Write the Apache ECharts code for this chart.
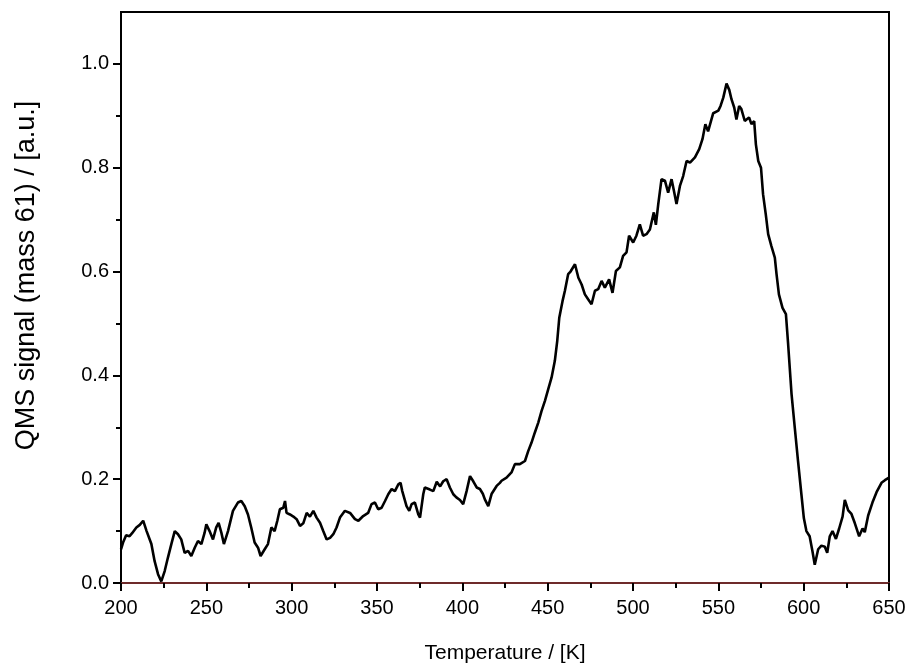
<!DOCTYPE html>
<html>
<head>
<meta charset="utf-8">
<script src="https://cdn.jsdelivr.net/npm/echarts@6/dist/echarts.min.js"></script>
<style>
  html, body { margin: 0; padding: 0; background: #fff; }
  #chart { width: 909px; height: 670px; }
</style>
</head>
<body>
<div id="chart"></div>
<script>
// temperature (K) and QMS signal
const temps = [
  200, 201.2, 203, 205, 206.5, 209, 211, 213, 215, 217.8, 219.7, 221.7, 223.6, 225.6, 227.5, 229.5,
  231.5, 233.4, 235.3, 237.3, 239.3, 241.2, 243.2, 245.1, 247.1, 249, 250, 251.9, 253.9, 255.8, 257.2,
  258.8, 260.3, 262.7, 265.6, 268.5, 270.5, 272.5, 274.4, 276.3, 278.3, 280.3, 281.8, 284.2, 286.1,
  288.1, 290, 291.6, 293.1, 295.1, 296.1, 297, 299, 301, 302.9, 304.9, 306.8, 308.8, 310.7, 312.7,
  314.6, 316.6, 318.5, 320.5, 322.5, 324.4, 326.3, 328.3, 331.2, 334.2, 337.1, 339.1, 341.9, 344.8,
  346.8, 348.8, 350.7, 352.7, 354.7, 356.6, 358.6, 360.5, 362.5, 363.8, 364.8, 367.3, 368.9, 370.3,
  372.2, 374.2, 375.2, 377.1, 378, 381, 383, 385, 387, 388.8, 390.8, 392.7, 394.7, 396.5, 398.6,
  400.5, 402.5, 404.5, 406.4, 408.4, 410.3, 412, 413.2, 415.2, 417.2, 420.1, 422, 423, 425.9, 428.8,
  430.8, 433.7, 436.7, 438.6, 440.5, 442.5, 444.5, 446.4, 448.4, 450.3, 452.3, 454.2, 455.6, 456.8,
  458.7, 460.1, 462, 463.4, 466, 468, 469.9, 471.8, 473.8, 475.7, 477.7, 479.6, 481.6, 483.5, 486,
  488, 490, 492.3, 494.2, 496.2, 497.7, 500.1, 502, 504, 505.9, 507.9, 509.9, 512.2, 513.4, 514.8,
  516.7, 518.7, 520.6, 522.6, 524, 525.5, 527.5, 529.4, 531.4, 533.4, 536.3, 538.8, 540.7, 542.4,
  544, 547, 550, 551.3, 552.9, 554.8, 556.4, 557.7, 559.3, 560.6, 562.2, 563.5, 565.5, 568, 569.4,
  571, 572, 573.4, 575, 576.2, 577.8, 579.2, 581.1, 583.1, 584.1, 585.5, 587.6, 589.6, 590.9, 592.9,
  594.8, 596.7, 598.7, 600.1, 601.6, 603.5, 605.1, 606.5, 608.5, 610.4, 612.4, 613.8, 615.3, 616.9,
  618.9, 620.8, 622.8, 624.1, 626.1, 628, 630, 632.5, 634.5, 635.8, 637.8, 640.3, 642.7, 645.6,
  647.6, 650
];
const signal = [
  0.065, 0.078, 0.092, 0.090, 0.096, 0.107, 0.112, 0.120, 0.100, 0.075, 0.042, 0.017, 0.003, 0.023, 0.049, 0.075,
  0.100, 0.094, 0.084, 0.058, 0.062, 0.052, 0.068, 0.081, 0.075, 0.097, 0.113, 0.100, 0.084, 0.107, 0.116,
  0.097, 0.075, 0.100, 0.139, 0.155, 0.158, 0.148, 0.132, 0.107, 0.078, 0.068, 0.052, 0.065, 0.075,
  0.107, 0.100, 0.120, 0.142, 0.145, 0.158, 0.135, 0.132, 0.128, 0.123, 0.110, 0.115, 0.135, 0.128, 0.139,
  0.126, 0.116, 0.100, 0.084, 0.087, 0.094, 0.107, 0.126, 0.139, 0.135, 0.123, 0.120, 0.129, 0.135,
  0.152, 0.155, 0.142, 0.145, 0.158, 0.171, 0.181, 0.177, 0.190, 0.193, 0.177, 0.148, 0.139, 0.152,
  0.155, 0.132, 0.126, 0.171, 0.184, 0.180, 0.177, 0.195, 0.186, 0.196, 0.200, 0.184, 0.171, 0.165, 0.160,
  0.152, 0.177, 0.206, 0.196, 0.184, 0.181, 0.172, 0.161, 0.148, 0.172, 0.187, 0.193, 0.197, 0.203, 0.213,
  0.229, 0.229, 0.235, 0.254, 0.270, 0.290, 0.309, 0.331, 0.351, 0.373, 0.396, 0.428, 0.466, 0.511,
  0.543, 0.563, 0.595, 0.600, 0.614, 0.588, 0.575, 0.556, 0.546, 0.537, 0.563, 0.566, 0.582, 0.569, 0.585,
  0.559, 0.601, 0.608, 0.630, 0.637, 0.669, 0.656, 0.669, 0.691, 0.669, 0.672, 0.681, 0.714, 0.690, 0.730,
  0.778, 0.775, 0.752, 0.778, 0.755, 0.730, 0.765, 0.784, 0.813, 0.810, 0.820, 0.836, 0.855, 0.884,
  0.870, 0.905, 0.910, 0.919, 0.935, 0.962, 0.950, 0.932, 0.916, 0.893, 0.919, 0.913, 0.890, 0.897, 0.884,
  0.890, 0.845, 0.813, 0.800, 0.749, 0.710, 0.672, 0.649, 0.627, 0.595, 0.556, 0.530, 0.518, 0.460, 0.364,
  0.299, 0.235, 0.170, 0.125, 0.100, 0.090, 0.062, 0.035, 0.065, 0.072, 0.070, 0.058, 0.090, 0.100,
  0.085, 0.105, 0.128, 0.160, 0.140, 0.133, 0.115, 0.090, 0.105, 0.098, 0.130, 0.155, 0.175, 0.193,
  0.198, 0.203
];

const yMajorTicks = [0, 0.2, 0.4, 0.6, 0.8, 1.0];
const yMinorTicks = [0.1, 0.3, 0.5, 0.7, 0.9];

const font = 'Liberation Sans, Arial, sans-serif';
const chart = echarts.init(document.getElementById('chart'));

const seriesData = temps.map((t, i) => [t, signal[i]]);

chart.setOption({
  animation: false,
  grid: {
    left: 121, right: 20, top: 12, bottom: 87,
    show: true, borderColor: '#000', borderWidth: 2, backgroundColor: 'transparent'
  },
  xAxis: {
    type: 'value',
    min: 200, max: 650, interval: 50,
    name: 'Temperature / [K]',
    nameLocation: 'middle',
    nameGap: 60,
    nameTextStyle: { fontFamily: font, fontSize: 21, color: '#000' },
    axisLine: { show: true, onZero: false, lineStyle: { color: '#6e2a2a', width: 2 } },
    axisTick: { show: true, inside: false, length: 8, lineStyle: { color: '#000', width: 2 } },
    minorTick: { show: true, splitNumber: 2, length: 5, lineStyle: { color: '#000', width: 2 } },
    axisLabel: { fontFamily: font, fontSize: 20, color: '#000', margin: 15 },
    splitLine: { show: false }
  },
  yAxis: [{
    type: 'value',
    min: 0, max: 1.1,
    name: 'QMS signal (mass 61) / [a.u.]',
    nameLocation: 'middle',
    nameGap: 81,
    nameRotate: 90,
    nameTextStyle: { fontFamily: font, fontSize: 27, color: '#000', padding: [0, 0, 0, 44] },
    axisLine: { show: true, lineStyle: { color: '#000', width: 2 } },
    axisTick: { show: true, length: 8, customValues: yMajorTicks, lineStyle: { color: '#000', width: 2 } },
    axisLabel: {
      fontFamily: font, fontSize: 20, color: '#000', margin: 12,
      customValues: yMajorTicks,
      formatter: v => v.toFixed(1)
    },
    splitLine: { show: false }
  }, {
    type: 'value',
    min: 0, max: 1.1,
    position: 'left',
    axisLine: { show: false },
    axisTick: { show: true, length: 5, customValues: yMinorTicks, lineStyle: { color: '#000', width: 2 } },
    axisLabel: { show: false },
    splitLine: { show: false }
  }],
  series: [{
    type: 'line',
    data: seriesData,
    showSymbol: false,
    lineStyle: { color: '#000', width: 2.6 },
    z: 3
  }]
});
</script>
</body>
</html>
